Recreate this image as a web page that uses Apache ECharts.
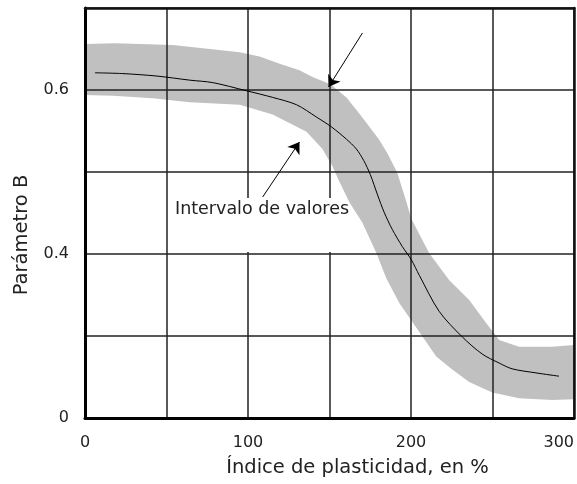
<!DOCTYPE html>
<html>
<head>
<meta charset="utf-8">
<script src="https://cdn.jsdelivr.net/npm/echarts@6/dist/echarts.min.js"></script>
<style>
  html, body { margin: 0; padding: 0; background: #fff; }
  #chart { width: 577px; height: 484px; }
</style>
</head>
<body>
<div id="chart"></div>
<script>
// curva media
const lineX = [6.1, 23.3, 44.1, 64.3, 78.4, 99.2, 115.1, 129.8, 142.0, 151.2, 160.4, 166.5, 171.0, 175.0,
  179.5, 183.5, 188.5, 194.7, 200.2, 205.1, 217.3, 231.4, 243.7, 254.1, 262.0, 276.7, 290.8];
const lineY = [0.621, 0.620, 0.617, 0.612, 0.609, 0.599, 0.591, 0.582, 0.567, 0.555, 0.540, 0.528, 0.514, 0.497,
  0.472, 0.451, 0.430, 0.409, 0.393, 0.374, 0.330, 0.299, 0.278, 0.267, 0.260, 0.255, 0.251];

// intervalo de valores (banda gris)
const upperX = [0, 18.4, 53.9, 94.9, 107.1, 119.4, 131.6, 139.6, 150.6, 160.4, 169.6, 180.6, 185.5, 191.6,
  197.1, 200.2, 211.2, 223.5, 235.7, 246.1, 254.1, 266.3, 286.5, 300];
const upperY = [0.656, 0.657, 0.655, 0.646, 0.641, 0.632, 0.624, 0.616, 0.607, 0.591, 0.568, 0.539, 0.523, 0.499,
  0.464, 0.443, 0.401, 0.368, 0.344, 0.316, 0.295, 0.287, 0.287, 0.289];
const lowerX = [0, 17.1, 41.6, 64.3, 94.9, 115.1, 135.9, 145.7, 151.8, 156.1, 162.2, 170.2, 178.8, 184.9,
  192.9, 205.1, 215.5, 225.3, 235.7, 249.8, 266.3, 286.5, 300];
const lowerY = [0.594, 0.593, 0.590, 0.585, 0.582, 0.570, 0.549, 0.528, 0.507, 0.488, 0.463, 0.438, 0.401, 0.370,
  0.340, 0.305, 0.275, 0.259, 0.244, 0.231, 0.224, 0.222, 0.223];

// flechas
const arrowFrom = [[170.2, 0.6695], [109.0, 0.4695]];
const arrowTo = [[149.4, 0.6037], [131.6, 0.5366]];

const xTickLabels = ['0', '', '100', '', '200', '', '300'];
const yTickLabels = ['0', '', '0.4', '', '0.6', ''];

const font = 'DejaVu Sans';
const chart = echarts.init(document.getElementById('chart'));

const bandPoly = upperX.map((x, i) => [x, upperY[i]])
  .concat(lowerX.map((x, i) => [x, lowerY[i]]).reverse());

const option = {
  animation: false,
  grid: { left: 85, top: 8, right: 2, bottom: 66 },
  xAxis: [{
    type: 'value',
    min: 0, max: 300, interval: 50,
    z: 3,
    name: 'Índice de plasticidad, en %',
    nameLocation: 'middle',
    nameGap: 40,
    nameTextStyle: { fontFamily: font, fontSize: 19.5, color: '#222', padding: [0, 0, 0, 56] },
    axisLine: { show: true, lineStyle: { color: '#000', width: 3 } },
    axisTick: { show: false },
    axisLabel: {
      fontFamily: font, fontSize: 16, color: '#222', margin: 17, alignMaxLabel: 'right',
      formatter: (v) => xTickLabels[Math.round(v / 50)]
    },
    splitLine: { show: true, lineStyle: { color: '#222', width: 1.5 } }
  }, {
    type: 'value', position: 'top',
    min: 0, max: 300, z: 3,
    axisLine: { show: true, onZero: false, lineStyle: { color: '#111', width: 2.5 } },
    axisTick: { show: false }, axisLabel: { show: false }, splitLine: { show: false }
  }],
  yAxis: [{
    type: 'value',
    min: 0.2, max: 0.7, interval: 0.1,
    z: 3,
    name: 'Parámetro B',
    nameLocation: 'middle',
    nameGap: 53,
    nameTextStyle: { fontFamily: font, fontSize: 19.5, color: '#222', padding: [0, 44, 0, 0] },
    axisLine: { show: true, lineStyle: { color: '#000', width: 3 } },
    axisTick: { show: false },
    axisLabel: {
      fontFamily: font, fontSize: 16, color: '#222', margin: 16,
      formatter: (v) => yTickLabels[Math.round((v - 0.2) / 0.1)]
    },
    splitLine: { show: true, lineStyle: { color: '#222', width: 1.5 } }
  }, {
    type: 'value', position: 'right',
    min: 0.2, max: 0.7, z: 3,
    axisLine: { show: true, onZero: false, lineStyle: { color: '#111', width: 2.5 } },
    axisTick: { show: false }, axisLabel: { show: false }, splitLine: { show: false }
  }],
  series: [{
    type: 'custom',
    z: 1,
    clip: true,
    silent: true,
    data: [[0, 0.2]],
    renderItem: (params, api) => ({
      type: 'polygon',
      shape: { points: bandPoly.map((p) => api.coord(p)) },
      style: { fill: '#c0c0c0' }
    })
  }, {
    type: 'line',
    z: 5,
    data: lineX.map((x, i) => [x, lineY[i]]),
    showSymbol: false,
    smooth: 0.3,
    lineStyle: { color: '#000', width: 1 },
    markLine: {
      silent: true,
      symbol: ['none', 'arrow'],
      symbolSize: 11,
      label: { show: false },
      lineStyle: { color: '#000', width: 1, type: 'solid' },
      data: arrowFrom.map((p, i) => [{ coord: p }, { coord: arrowTo[i] }])
    }
  }],
  graphic: [{
    type: 'rect',
    z: 100,
    shape: { x: 170, y: 198, width: 167, height: 54 },
    style: { fill: '#fff' }
  }, {
    type: 'text',
    z: 101,
    x: 262, y: 209,
    style: {
      text: 'Intervalo de valores',
      font: '17.5px "DejaVu Sans"',
      fill: '#222',
      align: 'center',
      verticalAlign: 'middle'
    }
  }]
};

chart.setOption(option);
</script>
</body>
</html>
